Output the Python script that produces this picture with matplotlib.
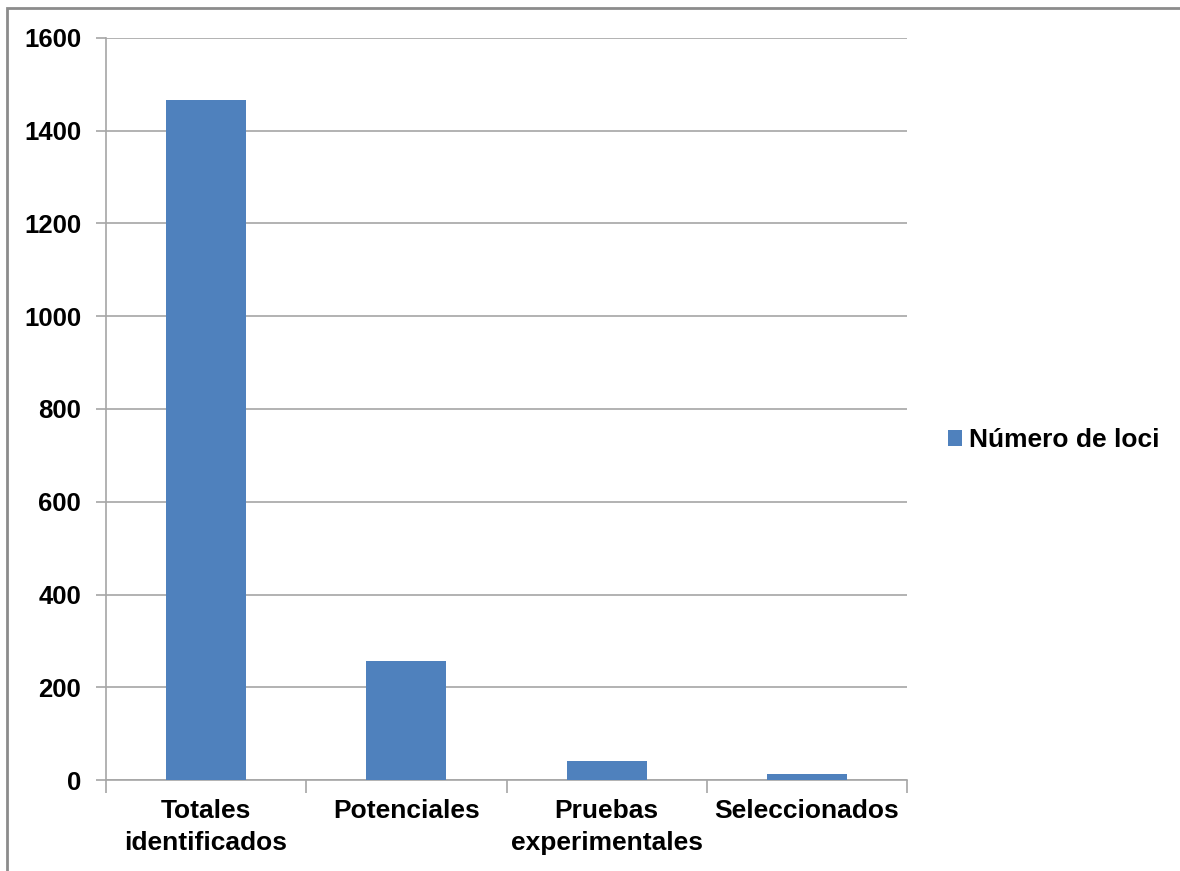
import matplotlib
matplotlib.use("Agg")
import matplotlib.pyplot as plt
from matplotlib.patches import Rectangle

categories = ["Totales\nidentificados", "Potenciales", "Pruebas\nexperimentales", "Seleccionados"]
values = [1466, 256, 40, 12]
series_name = "Número de loci"
y_ticks = [0, 200, 400, 600, 800, 1000, 1200, 1400, 1600]

plt.rcParams["font.family"] = ["Liberation Sans", "DejaVu Sans"]

fig = plt.figure(figsize=(11.8, 8.71), dpi=100)
ax = fig.add_axes([106 / 1180, 1 - 780 / 871, 801 / 1180, 742 / 871])

x = list(range(len(categories)))
ax.bar(x, values, width=0.4, color="#4F81BD", label=series_name, zorder=3)

ax.set_xlim(-0.5, len(categories) - 0.5)
ax.set_ylim(0, 1600)
ax.set_yticks(y_ticks)
ax.set_yticklabels([str(v) for v in y_ticks], fontsize=18.5, fontweight="bold")
ax.yaxis.grid(True, color="#a6a6a6", linewidth=1.2, zorder=0)
ax.tick_params(axis="y", length=7, color="#a6a6a6", width=1.2, pad=11)

# category ticks sit on the boundaries between bars
ax.set_xticks([i - 0.5 for i in range(len(categories) + 1)])
ax.set_xticklabels([])
ax.tick_params(axis="x", length=9, color="#a6a6a6", width=1.2)
for i, lab in enumerate(categories):
    ax.text(i, -40, lab, ha="center", va="top", fontsize=19, fontweight="bold",
            linespacing=1.42)

for side in ["top", "right"]:
    ax.spines[side].set_visible(False)
for side in ["left", "bottom"]:
    ax.spines[side].set_color("#a6a6a6")
    ax.spines[side].set_linewidth(1.2)

fig.legend(loc="center left", bbox_to_anchor=(924 / 1180, 1 - 440 / 871), frameon=False,
           prop={"size": 19, "weight": "bold"}, handlelength=0.55, handleheight=0.55,
           handletextpad=0.25)

# outer chart border
fig.patches.append(Rectangle((7 / 1180, -0.05), 1.2, 1 - 8 / 871 + 0.05, transform=fig.transFigure,
                             fill=False, edgecolor="#8c8c8c", linewidth=2))

fig.savefig("out.png", dpi=100)
